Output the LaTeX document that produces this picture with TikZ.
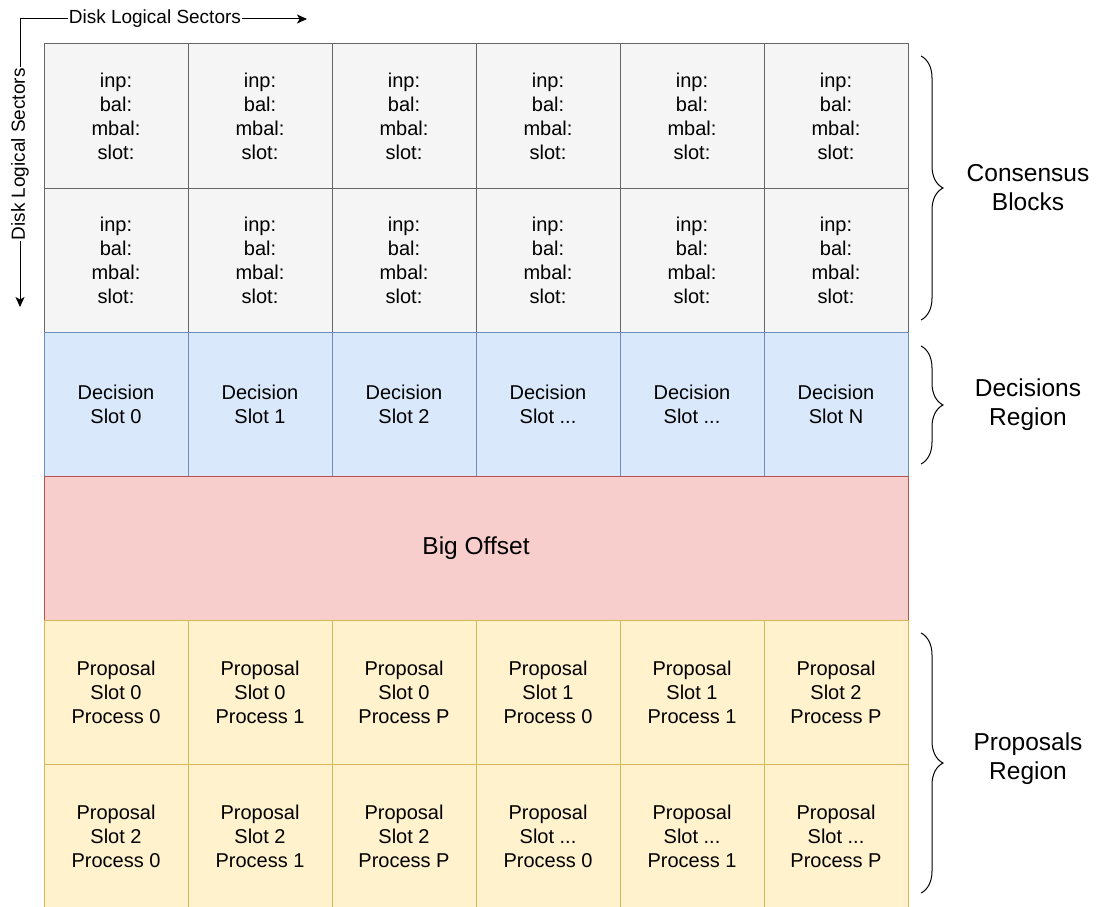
\documentclass[tikz,border=0pt]{standalone}
\usepackage{fontspec}
\setmainfont{Liberation Sans}
\usetikzlibrary{arrows.meta,decorations.pathreplacing}
\definecolor{grayfill}{HTML}{F5F5F5}
\definecolor{graydraw}{HTML}{666666}
\definecolor{bluefill}{HTML}{DAE8FC}
\definecolor{bluedraw}{HTML}{6C8EBF}
\definecolor{redfill}{HTML}{F8CECC}
\definecolor{reddraw}{HTML}{B85450}
\definecolor{yellowfill}{HTML}{FFF2CC}
\definecolor{yellowdraw}{HTML}{D6B656}
\newcommand{\slotdots}{...}
\begin{document}
\begin{tikzpicture}[x=1pt,y=-1pt,
  cell/.style={rectangle, minimum width=144pt, minimum height=144pt,
    inner sep=0pt, outer sep=0pt, line width=1pt, align=center,
    font=\fontsize{20}{24}\selectfont},
  consensus/.style={cell, fill=grayfill, draw=graydraw},
  decision/.style={cell, fill=bluefill, draw=bluedraw},
  proposal/.style={cell, fill=yellowfill, draw=yellowdraw},
  side/.style={align=center, font=\fontsize{24.5}{29}\selectfont},
  axis/.style={line width=1pt, -{Stealth[length=10pt,width=9pt,inset=2.5pt]}},
  axislabel/.style={fill=white, inner sep=1pt, font=\fontsize{19}{22}\selectfont},
  curly/.style={line width=1pt, decorate,
    decoration={brace, amplitude=22pt}}]
\useasboundingbox (0,0) rectangle (1100,907);

% consensus blocks: two rows of six
\foreach \c in {0,...,5} {
  \node[consensus] (cbA\c) at ({116+144*\c},116) {inp:\\bal:\\mbal:\\slot:};
  \node[consensus] (cbB\c) at ({116+144*\c},260) {inp:\\bal:\\mbal:\\slot:};
}

% decision slots
\foreach \s [count=\i from 0] in {0,1,2,\slotdots,\slotdots,N} {
  \node[decision] (ds\i) at ({116+144*\i},404) {Decision\\Slot \s};
}

% offset band
\node[cell, fill=redfill, draw=reddraw, minimum width=864pt,
  font=\fontsize{24.5}{29}\selectfont] (big) at (476,548) {Big Offset};

% proposal slots
\foreach \s/\p [count=\i from 0] in {0/0,0/1,0/P,1/0,1/1,2/P} {
  \node[proposal] (psA\i) at ({116+144*\i},692) {Proposal\\Slot \s\\Process \p};
}
\foreach \s/\p [count=\i from 0] in {2/0,2/1,2/P,\slotdots/0,\slotdots/1,\slotdots/P} {
  \node[proposal] (psB\i) at ({116+144*\i},836) {Proposal\\Slot \s\\Process \p};
}

% axes
\coordinate (corner) at (20,19);
\coordinate (downend) at (20,307);
\coordinate (rightend) at (307,19);
\draw[axis] (corner) -- node[axislabel, pos=0.47] (hlab) {Disk Logical Sectors} (rightend);
\draw[axis] (corner) -- node[axislabel, pos=0.47, rotate=90] (vlab) {Disk Logical Sectors} (downend);

% region braces and labels
\coordinate (b1s) at (921,56);
\coordinate (b1e) at (921,320);
\coordinate (b2s) at (921,346);
\coordinate (b2e) at (921,464);
\coordinate (b3s) at (921,633);
\coordinate (b3e) at (921,893);
\draw[curly] (b1s) -- (b1e);
\draw[curly] (b2s) -- (b2e);
\draw[curly] (b3s) -- (b3e);
\node[side] (lab1) at (1028,188) {Consensus\\Blocks};
\node[side] (lab2) at (1028,405) {Decisions\\Region};
\node[side] (lab3) at (1028,759) {Proposals\\Region};
\end{tikzpicture}
\end{document}
